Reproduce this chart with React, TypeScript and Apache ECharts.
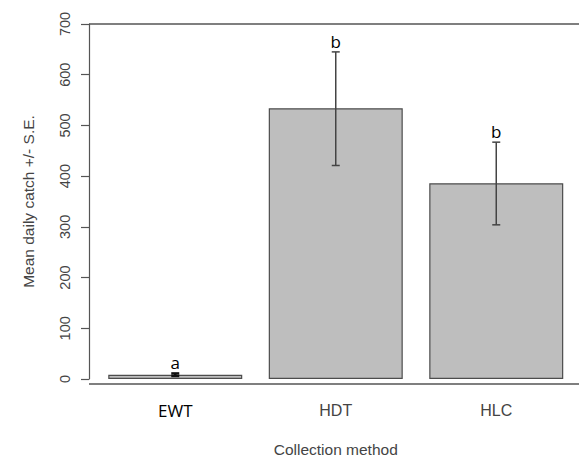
import React, { useEffect, useRef } from "react";
import * as echarts from "echarts";

const categories = ["EWT", "HDT", "HLC"];
const means = [8.5, 534, 386];
const lowerSE = [6, 421, 304];
const upperSE = [11, 645, 467];
const letters = ["a", "b", "b"];
const yMin = 0;
const yMax = 700;
const yInterval = 100;

export default function App() {
  const ref = useRef<HTMLDivElement>(null);
  useEffect(() => {
    document.body.style.margin = "0";
    document.documentElement.style.overflow = "hidden";
    if (!ref.current) return;
    const chart = echarts.init(ref.current, undefined, { renderer: "svg" });
    const axisColor = "#555";
    const textColor = "#444";
    chart.setOption({
      animation: false,
      backgroundColor: "#fff",
      grid: { left: 95, right: 2.5, top: 24, bottom: 78 },
      xAxis: {
        type: "category",
        data: categories,
        axisLine: { show: false },
        axisTick: { show: false },
        axisLabel: {
          margin: 23,
          formatter: (v: string) => (v === "EWT" ? `{e|${v}}` : `{n|${v}}`),
          rich: {
            e: { fontFamily: "Open Sans", fontSize: 17, color: "#000" },
            n: { fontFamily: "Liberation Sans", fontSize: 16, color: textColor },
          },
        },
        name: "Collection method",
        nameLocation: "middle",
        nameGap: 62,
        nameTextStyle: { fontFamily: "Liberation Sans", fontSize: 15.5, color: textColor },
      },
      yAxis: {
        type: "value",
        min: yMin,
        max: yMax,
        interval: yInterval,
        offset: 6,
        axisLine: { show: true, lineStyle: { color: axisColor, width: 1.2 } },
        axisTick: { show: true, length: 8, lineStyle: { color: axisColor, width: 1.2 } },
        splitLine: { show: false },
        axisLabel: {
          rotate: 90,
          margin: 17,
          fontFamily: "Liberation Sans",
          fontSize: 14.5,
          color: textColor,
        },
        name: "Mean daily catch +/- S.E.",
        nameLocation: "middle",
        nameRotate: 90,
        nameGap: 53,
        nameTextStyle: { fontFamily: "Liberation Sans", fontSize: 15.5, color: textColor },
      },
      graphic: [
        {
          type: "line",
          shape: { x1: 89, y1: 24, x2: 579, y2: 24 },
          style: { stroke: axisColor, lineWidth: 1.5 },
          z: 10,
        },
        {
          type: "line",
          shape: { x1: 89, y1: 384, x2: 579, y2: 384 },
          style: { stroke: axisColor, lineWidth: 1.5 },
          z: 10,
        },
      ],
      series: [
        {
          type: "bar",
          data: means,
          barWidth: 134,
          itemStyle: { color: "#bebebe", borderColor: "#4d4d4d", borderWidth: 1.2 },
        },
        {
          type: "custom",
          data: categories.map((c, i) => [i, lowerSE[i], upperSE[i]]),
          z: 5,
          renderItem: (params: any, api: any) => {
            const idx = api.value(0);
            const lo = api.coord([idx, api.value(1)]);
            const hi = api.coord([idx, api.value(2)]);
            const x = lo[0];
            const half = 4;
            const stroke = idx === 0 ? "#111" : "#444";
            const lw = idx === 0 ? 2.5 : 1.5;
            return {
              type: "group",
              children: [
                { type: "line", shape: { x1: x, y1: lo[1], x2: x, y2: hi[1] }, style: { stroke, lineWidth: lw } },
                { type: "line", shape: { x1: x - half, y1: lo[1], x2: x + half, y2: lo[1] }, style: { stroke, lineWidth: lw } },
                { type: "line", shape: { x1: x - half, y1: hi[1], x2: x + half, y2: hi[1] }, style: { stroke, lineWidth: lw } },
                {
                  type: "text",
                  x: x,
                  y: hi[1] - 2,
                  style: {
                    text: letters[params.dataIndex],
                    fill: "#000",
                    font: '17px "Open Sans"',
                    align: "center",
                    verticalAlign: "bottom",
                  },
                },
              ],
            };
          },
        },
      ],
    });
    return () => chart.dispose();
  }, []);
  return (
    <div
      ref={ref}
      style={{ position: "fixed", left: 0, top: 0, width: 579, height: 462 }}
    />
  );
}
